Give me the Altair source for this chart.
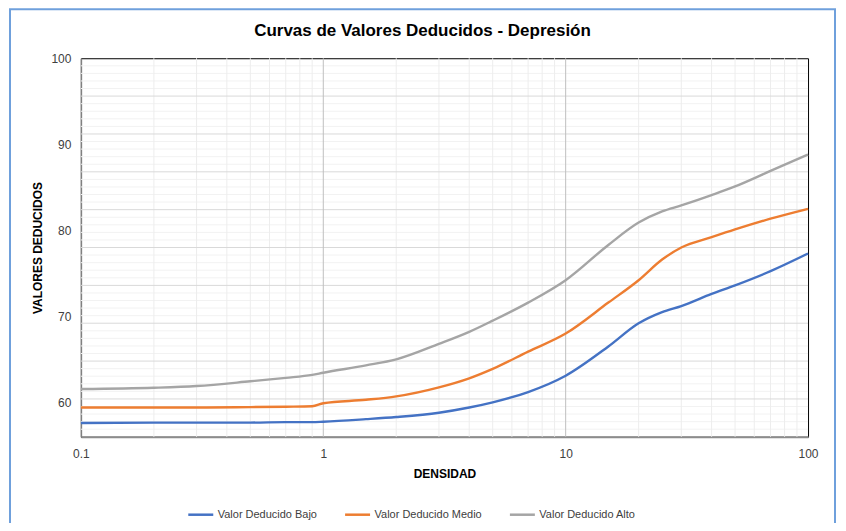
import altair as alt
import pandas as pd

# ---- data ----
density = [0.1, 0.2, 0.3, 0.5, 0.7, 0.9, 1, 1.5, 2, 3, 4, 5, 7, 10, 15, 20, 25, 30, 40, 50, 70, 100]
bajo = [57.6, 57.65, 57.65, 57.65, 57.7, 57.7, 57.75, 58.05, 58.3, 58.8, 59.4, 60.0, 61.2, 63.1,
        66.5, 69.2, 70.5, 71.2, 72.6, 73.6, 75.25, 77.3]
medio = [59.4, 59.4, 59.4, 59.45, 59.5, 59.55, 59.9, 60.3, 60.7, 61.75, 62.8, 63.9, 65.9, 68.0,
         71.6, 74.2, 76.6, 78.0, 79.2, 80.1, 81.35, 82.5]
alto = [61.55, 61.7, 61.9, 62.45, 62.85, 63.2, 63.45, 64.3, 65.0, 66.8, 68.2, 69.5, 71.6, 74.2,
        78.3, 80.9, 82.2, 82.9, 84.1, 85.1, 86.9, 88.8]
series_names = ["Valor Deducido Bajo", "Valor Deducido Medio", "Valor Deducido Alto"]
series_colors = ["#4472C4", "#ED7D31", "#A5A5A5"]

y_labels = [60, 70, 80, 90, 100]
x_labels = [0.1, 1, 10, 100]
y_min, y_max = 56, 100

# gridlines (Excel style: 10 major divisions, 5 minor each)
h_major = [y_min + 4.4 * k for k in range(1, 10)]
h_minor = [y_min + 0.88 * k for k in range(1, 50) if k % 5 != 0]
v_major = [1, 10]
v_minor = [m * d for d in (0.1, 1, 10) for m in range(2, 10)]

rows = []
for name, vals in zip(series_names, [bajo, medio, alto]):
    for d, v in zip(density, vals):
        rows.append({"Densidad": d, "Valor": v, "Serie": name})
df = pd.DataFrame(rows)

xscale = alt.Scale(type="log", domain=[0.1, 100], nice=False)
yscale = alt.Scale(domain=[y_min, y_max], nice=False, zero=False)

xaxis = alt.Axis(values=x_labels, format="~g", title="DENSIDAD", grid=False, ticks=False,
                 tickSize=0, labelPadding=12, labelFontSize=12, labelColor="#404040",
                 labelFont="Liberation Sans", titleFont="Liberation Sans", titleFontSize=12,
                 titleFontWeight="bold", titleColor="#000000", titlePadding=9,
                 domainColor="#8C8C8C", domainWidth=2, labelFlush=False)
yaxis = alt.Axis(values=y_labels, title="VALORES DEDUCIDOS", grid=False, ticks=False,
                 tickSize=0, labelPadding=10, labelFontSize=12, labelColor="#404040",
                 labelFont="Liberation Sans", titleFont="Liberation Sans", titleFontSize=12,
                 titleFontWeight="bold", titleColor="#000000", titleX=-43, titleY=189.5,
                 titleAlign="center", titleBaseline="middle",
                 domainColor="#808080", domainWidth=1.5)

def hrules(vals, color):
    return alt.Chart(pd.DataFrame({"g": vals})).mark_rule(color=color, strokeWidth=1).encode(
        y=alt.Y("g:Q", scale=yscale, axis=yaxis, title="VALORES DEDUCIDOS"))

def vrules(vals, color):
    return alt.Chart(pd.DataFrame({"g": vals})).mark_rule(color=color, strokeWidth=1).encode(
        x=alt.X("g:Q", scale=xscale, axis=xaxis, title="DENSIDAD"))

grid = hrules(h_minor, "#F2F2F2") + vrules(v_minor, "#EDEDED") + hrules(h_major, "#D9D9D9") + vrules(v_major, "#BFBFBF")

lines = alt.Chart(df).mark_line(strokeWidth=2.4, interpolate="monotone").encode(
    x=alt.X("Densidad:Q", scale=xscale, axis=xaxis, title="DENSIDAD"),
    y=alt.Y("Valor:Q", scale=yscale, axis=yaxis, title="VALORES DEDUCIDOS"),
    color=alt.Color("Serie:N", sort=series_names,
                    scale=alt.Scale(domain=series_names, range=series_colors),
                    legend=alt.Legend(title=None, orient="none", direction="horizontal",
                                      legendX=106, legendY=443, symbolType="stroke",
                                      symbolSize=625, symbolStrokeWidth=2.5, labelFontSize=11,
                                      labelFont="Liberation Sans", labelColor="#404040",
                                      columnPadding=22, labelOffset=3)),
)

frame_data = alt.Data(values=[{}])
blue = "#6FA0DC"
frame = (
    alt.Chart(frame_data).mark_rule(color=blue, strokeWidth=2).encode(
        x=alt.value(-71), y=alt.value(-49), y2=alt.value(470))
    + alt.Chart(frame_data).mark_rule(color=blue, strokeWidth=2).encode(
        x=alt.value(755), y=alt.value(-49), y2=alt.value(470))
    + alt.Chart(frame_data).mark_rule(color=blue, strokeWidth=2).encode(
        x=alt.value(-72), x2=alt.value(756), y=alt.value(-49))
)

chart = (grid + lines + frame).properties(
    width=728, height=379,
    autosize="none",
    padding={"left": 73, "top": 50, "right": 30, "bottom": 86},
    title=alt.TitleParams(
        "Curvas de Valores Deducidos - Depresión",
        font="Liberation Sans", fontSize=17, fontWeight="bold", color="#000000",
        anchor="middle", dx=-22, offset=-45, baseline="alphabetic"),
).configure_view(stroke="#000000", strokeWidth=1)

chart.save("out.html", embed_options={"renderer": "svg", "actions": False})
